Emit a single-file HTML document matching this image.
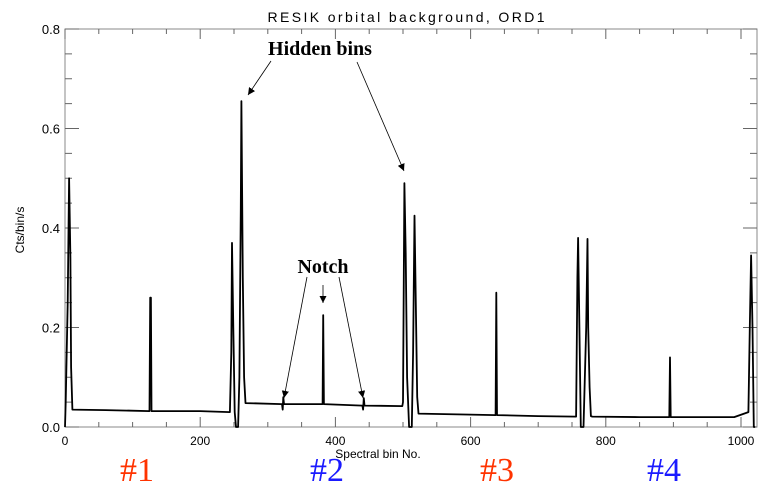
<!DOCTYPE html>
<html><head><meta charset="utf-8"><style>
html,body{margin:0;padding:0;background:#fff;}
svg{display:block;}
text{font-family:"Liberation Sans",sans-serif;}
</style></head><body>
<svg id="chart" width="770" height="491" viewBox="0 0 770 491" xmlns="http://www.w3.org/2000/svg">
<defs><marker id="ah" viewBox="0 0 10 10" refX="10" refY="5" markerWidth="9" markerHeight="9" orient="auto"><path d="M0,0 L10,5 L0,10 z" fill="#000"/></marker></defs>
<text x="406" y="22" text-anchor="middle" font-size="14" textLength="277">RESIK orbital background, ORD1</text>
<rect x="65" y="29" width="692" height="398" fill="none" stroke="#888" stroke-width="1"/>
<g id="axes"></g>
<path id="series" fill="none" stroke="#000" stroke-width="1.8" stroke-linejoin="round"/>
<text x="24" y="230" text-anchor="middle" font-size="12" transform="rotate(-90 24 230)">Cts/bin/s</text>
<text x="378" y="458" text-anchor="middle" font-size="12">Spectral bin No.</text>
<g font-weight="bold" font-size="20">
<text x="320" y="55" text-anchor="middle" style="font-family:'Liberation Serif',serif">Hidden bins</text>
<text x="323" y="273" text-anchor="middle" style="font-family:'Liberation Serif',serif">Notch</text>
</g>
<g stroke="#000" stroke-width="0.8" marker-end="url(#ah)">
<line x1="271" y1="61" x2="248" y2="95"/>
<line x1="357" y1="62" x2="404" y2="171"/>
<line x1="307" y1="277" x2="284" y2="398"/>
<line x1="323" y1="285" x2="323" y2="303"/>
<line x1="339" y1="277" x2="363" y2="398"/>
</g>
<g font-size="34">
<text x="137" y="481" text-anchor="middle" fill="#ff3300" style="font-family:'Liberation Serif',serif">#1</text>
<text x="327" y="481" text-anchor="middle" fill="#1a1aff" style="font-family:'Liberation Serif',serif">#2</text>
<text x="497" y="481" text-anchor="middle" fill="#ff3300" style="font-family:'Liberation Serif',serif">#3</text>
<text x="664" y="481" text-anchor="middle" fill="#1a1aff" style="font-family:'Liberation Serif',serif">#4</text>
</g>
</svg>
<script>
const xTicks = [0, 200, 400, 600, 800, 1000];
const yTicks = [0.0, 0.2, 0.4, 0.6, 0.8];
const yTickLabels = ["0.0", "0.2", "0.4", "0.6", "0.8"];
const seg1Bins = [0, 1, 4, 6, 8, 9, 11, 60, 125, 126, 127, 128, 200, 244, 246, 247, 249, 251];
const seg1Counts = [0, 0.05, 0.25, 0.50, 0.34, 0.12, 0.035, 0.034, 0.032, 0.26, 0.26, 0.032, 0.032, 0.030, 0.15, 0.37, 0.2, 0.03];
const seg2Bins = [253, 256, 258, 260, 261, 263, 265, 267, 321, 322, 323, 324, 381, 382, 383, 440, 441, 442, 443, 499, 500, 502, 504, 506];
const seg2Counts = [0, 0, 0.1, 0.44, 0.655, 0.3, 0.1, 0.048, 0.046, 0.035, 0.06, 0.046, 0.046, 0.225, 0.046, 0.043, 0.035, 0.058, 0.043, 0.042, 0.05, 0.49, 0.35, 0.1];
const seg3Bins = [509, 513, 515, 517, 519, 521, 523, 600, 637, 638, 639, 700, 756, 758, 759, 761];
const seg3Counts = [0, 0, 0.15, 0.425, 0.25, 0.06, 0.027, 0.025, 0.024, 0.27, 0.024, 0.022, 0.021, 0.3, 0.38, 0.2];
const seg4Bins = [763, 767, 771, 773, 774, 776, 778, 780, 850, 894, 895, 896, 990, 1011, 1013, 1015, 1017, 1019, 1021];
const seg4Counts = [0, 0, 0.2, 0.378, 0.2, 0.08, 0.022, 0.021, 0.02, 0.02, 0.14, 0.02, 0.02, 0.03, 0.2, 0.345, 0.2, 0, 0];
const bins = seg1Bins.concat(seg2Bins, seg3Bins, seg4Bins);
const counts = seg1Counts.concat(seg2Counts, seg3Counts, seg4Counts);
function xs(b){ return 65 + b * 0.676; }
function ys(v){ return 427 - v * 497.5; }
const axes = document.getElementById('axes');
const NS = 'http://www.w3.org/2000/svg';
function mk(tag, attrs){ const e = document.createElementNS(NS, tag); for (const k in attrs) e.setAttribute(k, attrs[k]); axes.appendChild(e); return e; }
for (let b = 0; b <= 1000; b += 50) {
  const major = b % 200 === 0;
  const len = major ? 10 : 5;
  const t1 = mk('line', {x1: xs(b), x2: xs(b), y1: 427, y2: 427 - len, stroke: '#666', 'stroke-width': 1});
  
  
  const t2 = mk('line', {x1: xs(b), x2: xs(b), y1: 29, y2: 29 + len, stroke: '#666', 'stroke-width': 1});
  
  
}
xTicks.forEach(function(b){
  const t = mk('text', {x: xs(b), y: 445, 'text-anchor': 'middle', 'font-size': 12});
  t.textContent = String(b);
  
  
});
for (let i = 0; i <= 16; i++) {
  const v = i * 0.05;
  const major = i % 4 === 0;
  const len = major ? 14 : 7;
  const t1 = mk('line', {x1: 65, x2: 65 + len, y1: ys(v), y2: ys(v), stroke: '#666', 'stroke-width': 1});
  
  
  const t2 = mk('line', {x1: 757, x2: 757 - len, y1: ys(v), y2: ys(v), stroke: '#666', 'stroke-width': 1});
  
  
}
yTicks.forEach(function(v, i){
  const t = mk('text', {x: 60, y: ys(v) + 5, 'text-anchor': 'end', 'font-size': 13});
  t.textContent = yTickLabels[i];
  
  
});
let d = '';
bins.forEach(function(b, i){ d += (i ? 'L' : 'M') + xs(b).toFixed(1) + ',' + ys(counts[i]).toFixed(1); });
document.getElementById('series').setAttribute('d', d);
</script>
</body></html>
